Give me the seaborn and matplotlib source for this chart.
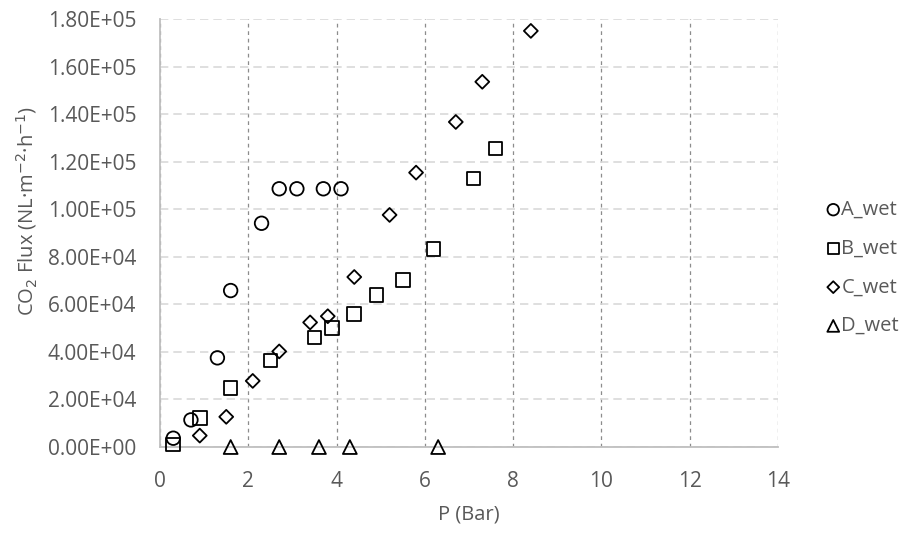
import pandas as pd
import matplotlib
matplotlib.use('Agg')
import matplotlib.pyplot as plt
import seaborn as sns

# données
a_p = [0.3, 0.7, 1.3, 1.6, 2.3, 2.7, 3.1, 3.7, 4.1]
a_flux = [3700, 11400, 37500, 65800, 94100, 108600, 108600, 108600, 108600]

b_p = [0.3, 0.9, 1.6, 2.5, 3.5, 3.9, 4.4, 4.9, 5.5, 6.2, 7.1, 7.6]
b_flux = [1100, 12300, 24900, 36400, 46000, 50100, 56000, 64000, 70300, 83300, 112900, 125500]

c_p = [0.9, 1.5, 2.1, 2.7, 3.4, 3.8, 4.4, 5.2, 5.8, 6.7, 7.3, 8.4]
c_flux = [4800, 12700, 27800, 40200, 52400, 55000, 71500, 97600, 115400, 136700, 153600, 175000]

d_p = [1.6, 2.7, 3.6, 4.3, 6.3]
d_flux = [0, 0, 0, 0, 0]

series = ['A_wet', 'B_wet', 'C_wet', 'D_wet']

frames = []
for name, p, f in zip(series, [a_p, b_p, c_p, d_p], [a_flux, b_flux, c_flux, d_flux]):
    frames.append(pd.DataFrame({'P': p, 'flux': f, 'serie': name}))
df = pd.concat(frames, ignore_index=True)

sns.set_style('white')
plt.rcParams['font.family'] = ['Open Sans', 'DejaVu Sans']

fig = plt.figure(figsize=(9.16, 5.34), dpi=100)
ax = fig.add_axes([0.1747, 0.1629, 0.6747, 0.8015])

marqueurs = {'A_wet': ('o', 95), 'B_wet': ('s', 95), 'C_wet': ('D', 50), 'D_wet': ('^', 100)}
for name in series:
    m, s = marqueurs[name]
    sns.scatterplot(data=df[df['serie'] == name], x='P', y='flux', marker=m, s=s,
                    fc='none', ec='black', linewidth=1.3, ax=ax, label=name,
                    clip_on=False, zorder=3)

ax.set_xlim(0, 14)
ax.set_ylim(0, 180000)
ax.set_xticks(range(0, 15, 2))
ax.set_yticks(range(0, 180001, 20000))
ax.set_yticklabels(['%.2E' % v for v in range(0, 180001, 20000)])

ax.grid(True, axis='y', color='#d9d9d9', linestyle=(0, (5, 3)), linewidth=1.2)
ax.grid(True, axis='x', color='#8c8c8c', linestyle=(0, (3, 3)), linewidth=0.9)
ax.set_axisbelow(True)
for sp in ['top', 'right']:
    ax.spines[sp].set_visible(False)
for sp in ['left', 'bottom']:
    ax.spines[sp].set_color('#bfbfbf')
    ax.spines[sp].set_linewidth(1.3)
    ax.spines[sp].set_zorder(2)

ax.tick_params(axis='both', length=0, labelsize=15, labelcolor='#595959')
ax.tick_params(axis='y', pad=17)
ax.tick_params(axis='x', pad=17)
ax.set_xlabel('P (Bar)', fontsize=14.5, color='#595959')
ax.set_ylabel('CO$_2$ Flux (NL·m$^{-2}$·h$^{-1}$)', fontsize=14.5, color='#595959')
ax.xaxis.set_label_coords(0.5, -0.135)
ax.yaxis.set_label_coords(-0.196, 0.551)

leg = ax.legend(loc='upper left', bbox_to_anchor=(1.06, 0.596), frameon=False,
                fontsize=14.5, labelcolor='#595959', handletextpad=-0.1,
                handlelength=1.0, labelspacing=0.93, borderaxespad=0,
                markerscale=0.85)

plt.savefig('out.png', dpi=100)
